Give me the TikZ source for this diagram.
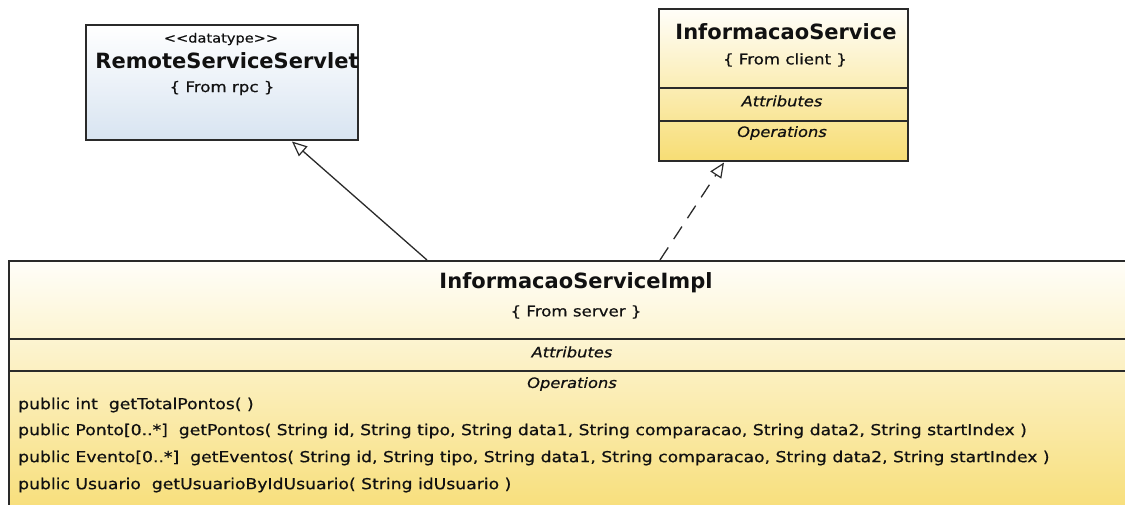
\documentclass[tikz,border=0pt]{standalone}
\usepackage{fontspec}
\setmainfont{DejaVu Sans}
\newfontfamily\umlfont{DejaVu Sans}[FakeStretch=1.14, FakeBold=0.6]
\usetikzlibrary{arrows.meta,calc}
\definecolor{edge}{HTML}{2A2A2A}
\definecolor{bluebot}{HTML}{D8E4F1}
\definecolor{yeltop}{HTML}{FFFEF9}
\definecolor{yelbot}{HTML}{F7DD74}
\definecolor{ink}{HTML}{111111}
\tikzset{
  classbox/.style={draw=edge, line width=1.5pt, anchor=north west, inner sep=0pt},
  bluebox/.style={classbox, top color=white, bottom color=bluebot},
  yellowbox/.style={classbox, top color=yeltop, bottom color=yelbot},
  divider/.style={draw=edge, line width=1.3pt},
  clsname/.style={font=\bfseries\fontsize{21}{24}\selectfont, text=ink, inner sep=0pt},
  origin/.style={font=\umlfont\fontsize{14.6}{16}\selectfont, text=ink, inner sep=0pt},
  stereo/.style={font=\umlfont\fontsize{12.8}{14}\selectfont, text=ink, inner sep=0pt},
  section/.style={font=\umlfont\itshape\fontsize{14.3}{15}\selectfont, text=ink, inner sep=0pt},
  member/.style={font=\umlfont\fontsize{15.1}{17}\selectfont, text=ink, inner sep=0pt, anchor=west},
  connector/.style={draw=edge, line width=1.3pt},
  generalization/.style={connector, -{Triangle[open, length=15pt, width=13pt, line width=1.2pt]}},
  realization/.style={generalization, dash pattern=on 15pt off 10pt},
}
\begin{document}
\begin{tikzpicture}[x=1pt, y=-1pt]
  \clip (0,0) rectangle (1125,504);
  \path[use as bounding box] (0,0) rectangle (1125,504);

  % RemoteServiceServlet (datatype)
  \node[bluebox, minimum width=272pt, minimum height=115pt] (rss) at (85,24) {};
  \node[stereo] (rssstereo) at (221,39) {<\kern0pt<datatype>\kern0pt>};
  \node[clsname] (rssname) at (227,61) {RemoteServiceServlet};
  \node[origin] (rssfrom) at (222,88) {\{ From rpc \}};

  % InformacaoService (interface)
  \node[yellowbox, minimum width=249pt, minimum height=152pt] (is) at (658,8) {};
  \node[clsname] (isname) at (786,32) {InformacaoService};
  \node[origin] (isfrom) at (785,60) {\{ From client \}};
  \draw[divider] ($(is.north west)+(0,80)$) -- ($(is.north east)+(0,80)$);
  \draw[divider] ($(is.north west)+(0,113)$) -- ($(is.north east)+(0,113)$);
  \node[section] (isattr) at (782,101) {Attributes};
  \node[section] (isops) at (782,133) {Operations};

  % InformacaoServiceImpl
  \node[yellowbox, minimum width=1134pt, minimum height=262pt] (impl) at (8,260) {};
  \node[clsname] (implname) at (576,283) {InformacaoServiceImpl};
  \node[origin] (implfrom) at (576,312) {\{ From server \}};
  \draw[divider] ($(impl.north west)+(0,79)$) -- ($(impl.north east)+(0,79)$);
  \draw[divider] ($(impl.north west)+(0,111)$) -- ($(impl.north east)+(0,111)$);
  \node[section] (implattr) at (572,352) {Attributes};
  \node[section] (implops) at (572,384) {Operations};
  \node[member] (m1) at (18,405) {public int\ \ getTotalPontos( )};
  \node[member] (m2) at (18,431) {public Ponto[0..*]\ \ getPontos( String id, String tipo, String data1, String comparacao, String data2, String startIndex )};
  \node[member] (m3) at (18,458) {public Evento[0..*]\ \ getEventos( String id, String tipo, String data1, String comparacao, String data2, String startIndex )};
  \node[member] (m4) at (18,485) {public Usuario\ \ getUsuarioByIdUsuario( String idUsuario )};

  % Relationships
  \coordinate (genfrom) at ($(impl.north west)+(419,0)$);
  \coordinate (gento) at ($(rss.south west)+(207,1)$);
  \coordinate (realfrom) at ($(impl.north west)+(652,0)$);
  \coordinate (realto) at ($(is.south west)+(66,1)$);
  \draw[generalization] (genfrom) -- (gento);
  \draw[realization] (realfrom) -- (realto);
\end{tikzpicture}
\end{document}
